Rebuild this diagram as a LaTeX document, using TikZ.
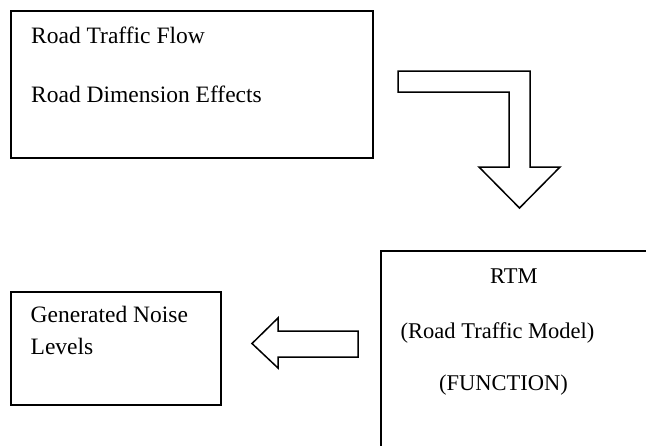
\documentclass[tikz,border=0pt]{standalone}
\usepackage{fontspec}
\setmainfont{Liberation Serif}
\usetikzlibrary{positioning}
\tikzset{
  box/.style={draw,line width=1.6pt,anchor=north west,inner sep=0pt},
  txt/.style={anchor=base west,inner sep=0pt,font=\fontsize{23.5}{28}\selectfont},
  blockarrow/.style={draw,line width=1.5pt,line join=miter,fill=white}
}

\begin{document}
\begin{tikzpicture}[x=1pt,y=-1pt]
    \useasboundingbox (0,0) rectangle (646,445);
    \clip (0,0) rectangle (646,445);
    \node[box,minimum width=362pt,minimum height=147pt] (inputs) at (10,10) {};
    \node[txt] (flow) at (31,43) {Road Traffic Flow};
    \node[txt] (dimension) at (31,102) {Road Dimension Effects};
    \node[box,minimum width=300pt,minimum height=250pt] (model) at (380,250) {};
    \node[txt,font=\fontsize{22.5}{27}\selectfont] (rtm) at (490,283) {RTM};
    \node[txt,font=\fontsize{22.5}{27}\selectfont] (rtmlong) at (400.5,338) {(Road Traffic Model)};
    \node[txt,font=\fontsize{22.5}{27}\selectfont] (function) at (439,390) {(FUNCTION)};
    \node[box,minimum width=210pt,minimum height=113pt] (noise) at (10,291) {};
    \node[txt] (generated) at (30.5,322.5) {Generated Noise};
    \node[txt] (levels) at (30.5,354.5) {Levels};
    \draw[blockarrow] (398,71) -- (530,71) -- (530,167) -- (560,167) -- (519.5,208)
      -- (479,167) -- (509,167) -- (509,92) -- (398,92) -- cycle;
    \draw[blockarrow] (358,331) -- (278,331) -- (278,318) -- (252,343.5)
      -- (278,368) -- (278,357) -- (358,357) -- cycle;
  \end{tikzpicture}
\end{document}
